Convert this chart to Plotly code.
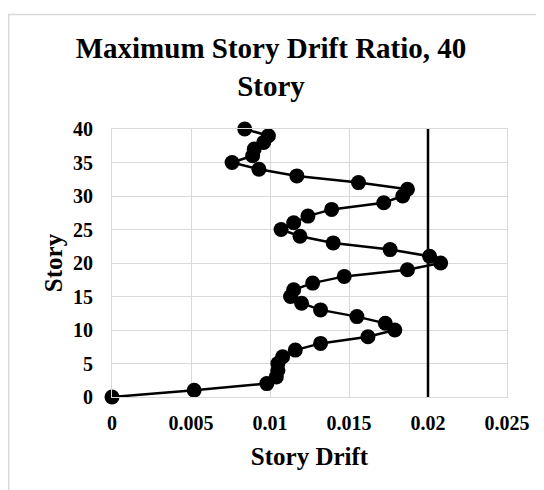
import plotly.graph_objects as go

stories = list(range(0, 41))
drift = [0.0, 0.0052, 0.0098, 0.0104, 0.0105, 0.0105, 0.0108, 0.0116, 0.0132, 0.0162,
         0.0179, 0.0173, 0.0155, 0.0132, 0.0120, 0.0113, 0.0115, 0.0127, 0.0147, 0.0187,
         0.0208, 0.0201, 0.0176, 0.0140, 0.0119, 0.0107, 0.0115, 0.0124, 0.0139, 0.0172,
         0.0184, 0.0187, 0.0156, 0.0117, 0.0093, 0.0076, 0.0089, 0.0090, 0.0096, 0.0099,
         0.0084]
limit_x = [0.02, 0.02]
limit_y = [0, 40]

x_ticks = [0, 0.005, 0.01, 0.015, 0.02, 0.025]
x_tick_text = ["0", "0.005", "0.01", "0.015", "0.02", "0.025"]
y_ticks = [0, 5, 10, 15, 20, 25, 30, 35, 40]

FONT = "Liberation Serif, Times New Roman, serif"

fig = go.Figure()
fig.add_trace(go.Scatter(x=limit_x, y=limit_y, mode="lines",
                         line=dict(color="black", width=2.5),
                         showlegend=False, hoverinfo="skip"))
fig.add_trace(go.Scatter(x=drift, y=stories, mode="lines+markers",
                         line=dict(color="black", width=2.5),
                         marker=dict(color="black", size=15),
                         cliponaxis=False, showlegend=False))

# page body has an 8px margin; figure is sized to fit the window
W, H = 536, 482
L, R, T, B = 104, 37, 121, 93
pw, ph = W - L - R, H - T - B

fig.add_shape(type="rect", xref="paper", yref="paper",
              x0=(0.75 - L) / pw, x1=(W + 20 - L) / pw,
              y0=(H - B - (H + 20)) / ph, y1=(H - B - 6.5) / ph,
              line=dict(color="#d9d9d9", width=1.5), layer="above")

fig.update_layout(
    width=W, height=H,
    margin=dict(l=L, r=R, t=T, b=B, autoexpand=False),
    paper_bgcolor="white", plot_bgcolor="white",
    font=dict(family=FONT, color="black"),
    title=dict(text="<b>Maximum Story Drift Ratio, 40<br>Story</b>",
               font=dict(family=FONT, size=29, color="black"),
               x=263 / W, xref="container", xanchor="center",
               y=1 - 50 / H, yref="container", yanchor="top"),
    xaxis=dict(range=[0, 0.025], tickvals=x_ticks, ticktext=x_tick_text,
               showgrid=True, gridcolor="#d9d9d9", gridwidth=1,
               showline=True, linecolor="#d9d9d9", linewidth=1, mirror=True,
               zeroline=False, ticks="", ticklabelstandoff=8, automargin=False,
               tickfont=dict(family=FONT, size=20, color="black", weight="bold"),
               title=dict(text="<b>Story Drift</b>", standoff=14,
                          font=dict(family=FONT, size=25, color="black"))),
    yaxis=dict(range=[0, 40], tickvals=y_ticks,
               showgrid=True, gridcolor="#d9d9d9", gridwidth=1,
               showline=True, linecolor="#d9d9d9", linewidth=1, mirror=True,
               zeroline=False, ticks="", ticklabelstandoff=14, automargin=False,
               tickfont=dict(family=FONT, size=20, color="black", weight="bold"),
               title=dict(text="<b>Story</b>", standoff=3,
                          font=dict(family=FONT, size=25, color="black"))),
)

fig.write_html("out.html")
